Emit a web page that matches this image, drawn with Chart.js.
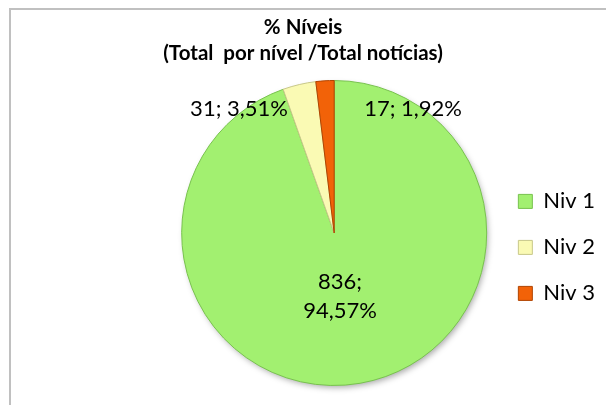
<!DOCTYPE html>
<html>
<head>
<meta charset="utf-8">
<script src="https://cdn.jsdelivr.net/npm/chart.js@4"></script>
<style>
  html, body { margin: 0; padding: 0; background: #fff; overflow: hidden; }
  #frame { position: absolute; left: 9px; top: 8px; width: 700px; height: 500px; border: 2px solid #c0c0c0; }
  #wrap { position: absolute; left: 0; top: 0; width: 606px; height: 405px; }
</style>
</head>
<body>
<div id="frame"></div>
<div id="wrap"><canvas id="pieNiveis"></canvas></div>
<script>
// dados
var categorias = ['Niv 1', 'Niv 2', 'Niv 3'];
var valores = [836, 31, 17];
var tituloLinhas = ['% Níveis', '(Total  por nível /Total notícias)'];

var cores = ['#a2f070', '#fafab4', '#f26208'];
var bordas = ['#78c24e', '#c8c88a', '#b04400'];
var posRotulo = ['inside', 'left', 'right'];
var fonte = 'Lato, "Open Sans", sans-serif';

function pct(v) {
    var total = valores.reduce(function (a, b) { return a + b; }, 0);
    return (v / total * 100).toFixed(2).replace('.', ',') + '%';
}

// titulo centrado na janela toda
var tituloPlugin = {
    id: 'tituloNiveis',
    afterDraw: function (chart) {
        var ctx = chart.ctx;
        ctx.save();
        ctx.font = 'bold 20.5px ' + fonte;
        ctx.fillStyle = '#000';
        ctx.textAlign = 'center';
        ctx.textBaseline = 'middle';
        tituloLinhas.forEach(function (t, i) {
            ctx.fillText(t, chart.width / 2, 27 + i * 26);
        });
        ctx.restore();
    }
};

// sombra por baixo da pizza
var sombraPlugin = {
    id: 'sombraPizza',
    beforeDatasetsDraw: function (chart) {
        var arc = chart.getDatasetMeta(0).data[0];
        if (!arc) return;
        var ctx = chart.ctx;
        ctx.save();
        ctx.shadowColor = 'rgba(0,0,0,0.35)';
        ctx.shadowBlur = 6;
        ctx.shadowOffsetX = 2;
        ctx.shadowOffsetY = 3;
        ctx.fillStyle = '#fff';
        ctx.beginPath();
        ctx.arc(arc.x, arc.y, arc.outerRadius - 1, 0, Math.PI * 2);
        ctx.fill();
        ctx.restore();
    }
};

// rotulos "valor; %"
var rotulosPlugin = {
    id: 'rotulosNiveis',
    afterDatasetsDraw: function (chart) {
        var ctx = chart.ctx;
        var meta = chart.getDatasetMeta(0);
        ctx.save();
        ctx.font = '22px ' + fonte;
        ctx.fillStyle = '#000';
        ctx.textBaseline = 'middle';
        meta.data.forEach(function (arc, i) {
            var v = valores[i];
            var r = arc.outerRadius;
            var cx = arc.x, cy = arc.y;
            if (posRotulo[i] === 'inside') {
                var mid = (arc.startAngle + arc.endAngle) / 2;
                var x = cx + Math.cos(mid) * r * 0.38;
                var y = cy + Math.sin(mid) * r * 0.42;
                ctx.textAlign = 'center';
                ctx.fillText(v + ';', x - 4, y - 14.5);
                ctx.fillText(pct(v), x - 4, y + 14.5);
            } else {
                var dy = -0.817 * r;
                var ang = posRotulo[i] === 'left' ? arc.startAngle : arc.endAngle;
                var xe = cx + Math.cos(ang) * (dy / Math.sin(ang));
                var txt = v + '; ' + pct(v);
                if (posRotulo[i] === 'left') {
                    ctx.textAlign = 'right';
                    ctx.fillText(txt, xe - 2, cy + dy);
                } else {
                    ctx.textAlign = 'left';
                    ctx.fillText(txt, xe + 30, cy + dy);
                }
            }
        });
        ctx.restore();
    }
};

var pieNiveis = new Chart(document.getElementById('pieNiveis'), {
    type: 'pie',
    data: {
        labels: categorias,
        datasets: [{
            data: valores,
            backgroundColor: cores,
            borderColor: bordas,
            borderWidth: 1,
            hoverOffset: 0
        }]
    },
    options: {
        responsive: true,
        maintainAspectRatio: false,
        animation: false,
        events: [],
        layout: { padding: { left: 174, right: 1, top: 80, bottom: 19 } },
        plugins: {
            title: { display: false },
            tooltip: { enabled: false },
            legend: {
                position: 'right',
                title: { display: true, text: '', padding: 0, font: { size: 24 } },
                labels: {
                    boxWidth: 14,
                    boxHeight: 14,
                    padding: 24,
                    color: '#000',
                    font: { family: fonte, size: 22 }
                }
            }
        }
    },
    plugins: [sombraPlugin, tituloPlugin, rotulosPlugin]
});
</script>
</body>
</html>
